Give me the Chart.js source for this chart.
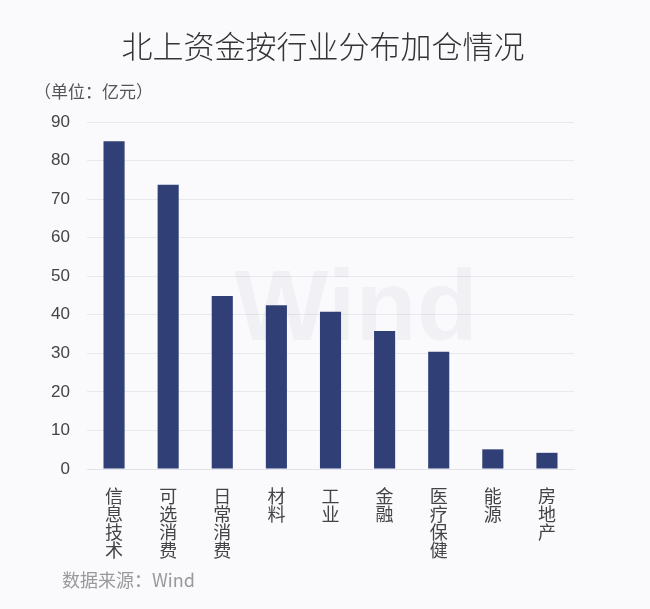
<!DOCTYPE html>
<html>
<head>
<meta charset="utf-8">
<script src="https://cdn.jsdelivr.net/npm/chart.js@4"></script>
<style>
  html, body { margin: 0; padding: 0; background: #fafafd; }
  #wrap { width: 650px; height: 609px; }
</style>
</head>
<body>
<div id="wrap"><canvas id="chart" width="650" height="609"></canvas></div>
<script>
// Data
const categories = ['信息技术', '可选消费', '日常消费', '材料', '工业', '金融', '医疗保健', '能源', '房地产'];
const values = [85, 73.7, 44.9, 42.5, 40.8, 35.8, 30.4, 5.1, 4.2];
const yTicks = [0, 10, 20, 30, 40, 50, 60, 70, 80, 90];

const titleText = '北上资金按行业分布加仓情况';
const unitText = '（单位：亿元）';
const sourceText = '数据来源：Wind';

const CJK = "'Noto Sans CJK SC', 'Liberation Sans', sans-serif";
const NUM = "'Liberation Sans', Arial, 'Noto Sans CJK SC', sans-serif";

// vertical labels: one character per line
const verticalLabels = categories.map(c => c.split(''));

// background, watermark and surrounding texts
const decor = {
    id: 'decor',
    beforeDraw(chart) {
        const ctx = chart.ctx;
        ctx.save();
        ctx.fillStyle = '#fafafd';
        ctx.fillRect(0, 0, chart.width, chart.height);
        ctx.restore();
    },
    beforeDatasetsDraw(chart) {
        const ctx = chart.ctx;
        ctx.save();
        ctx.fillStyle = 'rgba(0, 0, 40, 0.035)';
        ctx.font = "bold 100px 'Liberation Sans', Arial, sans-serif";
        ctx.textAlign = 'center';
        ctx.textBaseline = 'middle';
        ctx.fillText('Wind', 356, 312);
        ctx.restore();
    },
    afterDraw(chart) {
        const ctx = chart.ctx;
        ctx.save();
        ctx.textBaseline = 'middle';
        ctx.fillStyle = '#333';
        ctx.font = `300 31px ${CJK}`;
        ctx.textAlign = 'center';
        ctx.fillText(titleText, 323, 46);

        ctx.fillStyle = '#555';
        ctx.font = `17px ${CJK}`;
        ctx.textAlign = 'left';
        ctx.fillText(unitText, 34, 92);

        ctx.fillStyle = '#999';
        ctx.font = `18px ${CJK}`;
        ctx.fillText(sourceText, 62, 580);
        ctx.restore();
    }
};

new Chart(document.getElementById('chart'), {
    type: 'bar',
    data: {
        labels: verticalLabels,
        datasets: [{
            data: values,
            backgroundColor: '#313f77',
            borderWidth: 0,
            barPercentage: 0.5,
            categoryPercentage: 0.78
        }]
    },
    options: {
        responsive: false,
        animation: false,
        layout: { padding: { top: 122, right: 76, bottom: 40, left: 0 } },
        plugins: {
            legend: { display: false },
            tooltip: { enabled: false }
        },
        scales: {
            x: {
                grid: { display: false, drawTicks: false },
                border: { display: true, color: '#e2e2ea', width: 1 },
                afterFit: s => { s.height = 100; },
                ticks: {
                    padding: 18,
                    maxRotation: 0,
                    autoSkip: false,
                    color: '#444',
                    font: { family: CJK, size: 18, lineHeight: 1.0 }
                }
            },
            y: {
                min: 0,
                max: 90,
                afterFit: s => { s.width = 87; },
                afterBuildTicks: s => { s.ticks = yTicks.map(v => ({ value: v })); },
                grid: { color: '#e8e8ef', drawTicks: false },
                border: { display: false },
                ticks: {
                    padding: 17,
                    color: '#444',
                    font: { family: NUM, size: 17 }
                }
            }
        }
    },
    plugins: [decor]
});
</script>
</body>
</html>
